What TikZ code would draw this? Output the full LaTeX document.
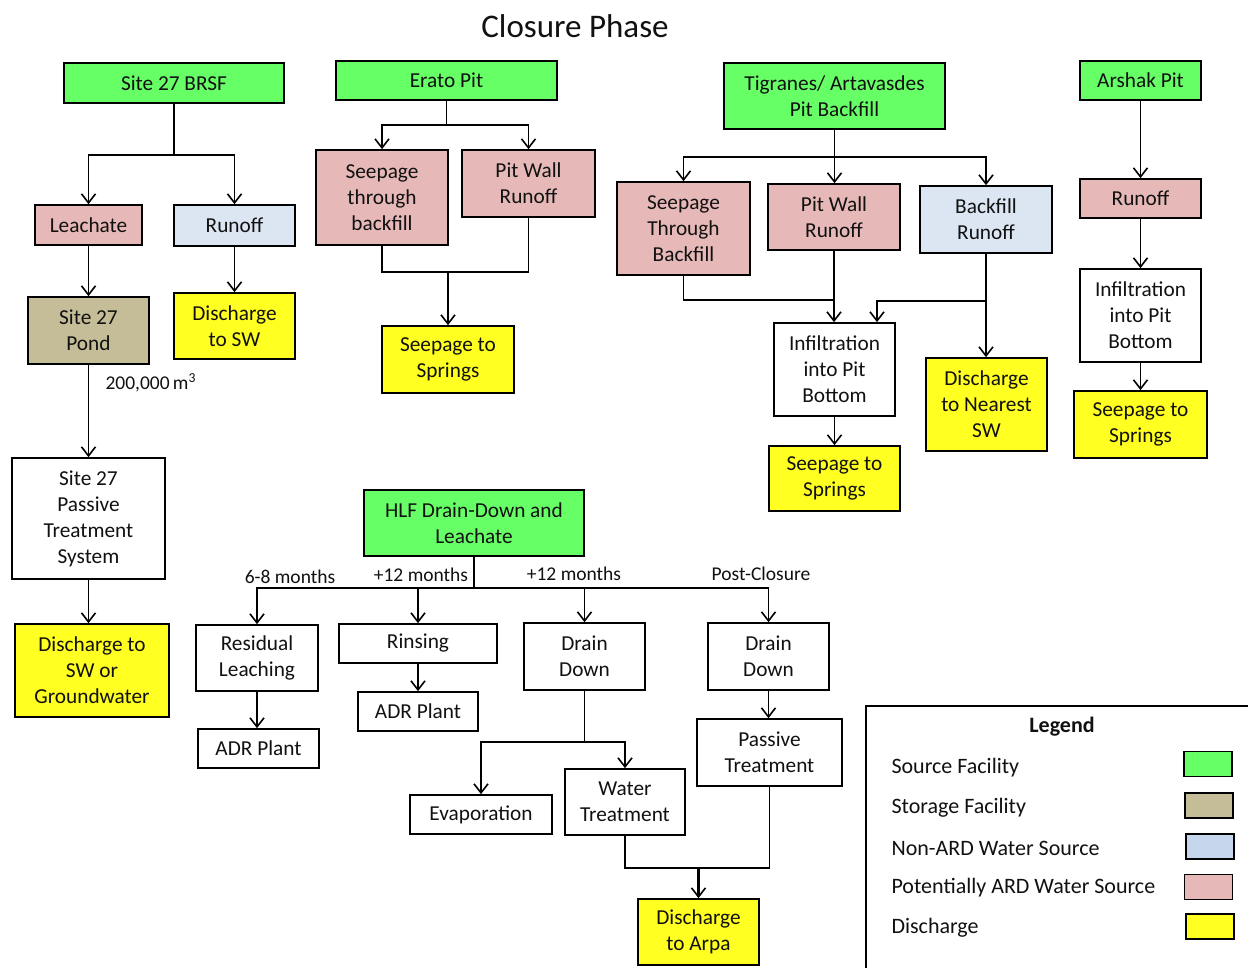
\documentclass[tikz,border=0pt]{standalone}
\usepackage{fontspec}
\setmainfont{Carlito}
\usetikzlibrary{arrows.meta,calc}
\definecolor{cgreen}{HTML}{66FF66}
\definecolor{ctan}{HTML}{C4BD97}
\definecolor{cblue}{HTML}{DCE6F2}
\definecolor{cblueL}{HTML}{C6D6EC}
\definecolor{cpink}{HTML}{E6B9B8}
\definecolor{cyel}{HTML}{FFFF22}
\definecolor{ctxt}{HTML}{111111}
\begin{document}
\begin{tikzpicture}[x=1pt,y=-1pt,
  box/.style={draw, line width=1.7pt, align=center, inner sep=0pt, text=ctxt, font=\fontsize{21.3}{26}\selectfont},
  arr/.style={line width=1.7pt, -{Straight Barb[length=9pt,width=14pt,line width=1.6pt]}},
  ln/.style={line width=1.7pt},
  lbl/.style={text=ctxt, font=\fontsize{19.5}{22}\selectfont},
  leg/.style={text=ctxt, anchor=west, font=\fontsize{22}{26}\selectfont},
  sw/.style={draw, line width=1.7pt, minimum width=48pt, minimum height=25pt, inner sep=0pt}]
\useasboundingbox (0,0) rectangle (1248,968);
\fill[white] (0,0) rectangle (1248,968);

\node[text=ctxt, font=\fontsize{33}{38}\selectfont] (title) at (575,26) {Closure Phase};

% Site 27
\node[box,fill=cgreen,minimum width=220pt,minimum height=40pt] (brsf) at (174,83) {Site 27 BRSF};
\node[box,fill=cpink,minimum width=107pt,minimum height=40pt] (leach) at (88.5,225) {Leachate};
\node[box,fill=cblue,minimum width=121pt,minimum height=41pt] (run1) at (234.5,225.5) {Runoff};
\node[box,fill=ctan,minimum width=121pt,minimum height=67pt] (pond) at (88.5,330.5) {Site 27\\Pond};
\node[box,fill=cyel,minimum width=121pt,minimum height=66pt] (dsw) at (234.5,326) {Discharge\\to SW};
\node[lbl,anchor=west] (vol) at (102,383) {200,000\,m\textsuperscript{3}};
\node[box,fill=white,minimum width=153pt,minimum height=121pt] (pts) at (88.5,518.5) {Site 27\\Passive\\Treatment\\System};
\node[box,fill=cyel,minimum width=154pt,minimum height=93pt] (dgw) at (92,670.5) {Discharge to\\SW or\\Groundwater};

% Erato
\node[box,fill=cgreen,minimum width=221pt,minimum height=39pt] (erato) at (446.5,80.5) {Erato Pit};
\node[box,fill=cpink,minimum width=132pt,minimum height=95pt] (esb) at (382,197.5) {Seepage\\through\\backfill};
\node[box,fill=cpink,minimum width=133pt,minimum height=67pt] (epw) at (528.5,183.5) {Pit Wall\\Runoff};
\node[box,fill=cyel,minimum width=132pt,minimum height=67pt] (ess) at (448,359.5) {Seepage to\\Springs};

% Tigranes
\node[box,fill=cgreen,minimum width=221pt,minimum height=66pt] (tig) at (834.5,96) {Tigranes/ Artavasdes\\Pit Backfill};
\node[box,fill=cpink,minimum width=133pt,minimum height=93pt] (tsb) at (683.5,228.5) {Seepage\\Through\\Backfill};
\node[box,fill=cpink,minimum width=132pt,minimum height=66pt] (tpw) at (834,217) {Pit Wall\\Runoff};
\node[box,fill=cblue,minimum width=132pt,minimum height=67pt] (tbr) at (986,219.5) {Backfill\\Runoff};
\node[box,fill=white,minimum width=121pt,minimum height=93pt] (tinf) at (834.5,369.5) {Infiltration\\into Pit\\Bottom};
\node[box,fill=cyel,minimum width=121pt,minimum height=93pt] (tdsw) at (986.5,404.5) {Discharge\\to Nearest\\SW};
\node[box,fill=cyel,minimum width=131pt,minimum height=65pt] (tss) at (834.5,478.5) {Seepage to\\Springs};

% Arshak
\node[box,fill=cgreen,minimum width=121pt,minimum height=39pt] (ars) at (1140.5,80.5) {Arshak Pit};
\node[box,fill=cpink,minimum width=121pt,minimum height=39pt] (arun) at (1140.5,198.5) {Runoff};
\node[box,fill=white,minimum width=121pt,minimum height=93pt] (ainf) at (1140.5,315.5) {Infiltration\\into Pit\\Bottom};
\node[box,fill=cyel,minimum width=133pt,minimum height=67pt] (ass) at (1140.5,424.5) {Seepage to\\Springs};

% HLF
\node[box,fill=cgreen,minimum width=220pt,minimum height=66pt] (hlf) at (474,523) {HLF Drain-Down and\\Leachate};
\node[box,fill=white,minimum width=122pt,minimum height=66pt] (res) at (257,658) {Residual\\Leaching};
\node[box,fill=white,minimum width=158pt,minimum height=39pt] (rin) at (418,643.5) {Rinsing};
\node[box,fill=white,minimum width=121pt,minimum height=67pt] (dd1) at (584.5,656.5) {Drain\\Down};
\node[box,fill=white,minimum width=121pt,minimum height=67pt] (dd2) at (768.5,656.5) {Drain\\Down};
\node[box,fill=white,minimum width=121pt,minimum height=39pt] (adr1) at (258.5,748.5) {ADR Plant};
\node[box,fill=white,minimum width=120pt,minimum height=39pt] (adr2) at (418,711.5) {ADR Plant};
\node[box,fill=white,minimum width=145pt,minimum height=67pt] (pt) at (769.5,752.5) {Passive\\Treatment};
\node[box,fill=white,minimum width=142pt,minimum height=39pt] (evap) at (481,814.5) {Evaporation};
\node[box,fill=white,minimum width=120pt,minimum height=66pt] (wt) at (625,802) {Water\\Treatment};
\node[box,fill=cyel,minimum width=121pt,minimum height=66pt] (arpa) at (698.5,932) {Discharge\\to Arpa};

\node[lbl] (l1) at (290,577) {6-8 months};
\node[lbl] (l2) at (421,575) {+12 months};
\node[lbl] (l3) at (574,574) {+12 months};
\node[lbl] (l4) at (761,574) {Post-Closure};

% Legend
\draw[line width=1.7pt] (866,968) -- (866,706) -- (1248,706);
\node[text=ctxt, font=\fontsize{22}{26}\selectfont\bfseries] (legt) at (1062,727) {Legend};
\node[leg] (lg1) at (888,768) {Source Facility};
\node[leg] (lg2) at (888,808) {Storage Facility};
\node[leg] (lg3) at (888,848) {Non-ARD Water Source};
\node[leg] (lg4) at (888,888) {Potentially ARD Water Source};
\node[leg] (lg5) at (888,928) {Discharge};
\node[sw,fill=cgreen] (s1) at (1208,764) {};
\node[sw,fill=ctan] (s2) at (1209,805.5) {};
\node[sw,fill=cblueL] (s3) at (1210,846.5) {};
\node[sw,fill=cpink] (s4) at (1208.5,887) {};
\node[sw,fill=cyel] (s5) at (1210,926.5) {};

% Site 27 connectors
\coordinate (b1) at (174,155);
\draw[ln] (brsf.south) -- (b1);
\draw[arr] (b1) -| (leach.north);
\draw[arr] (b1) -| (run1.north);
\draw[arr] (leach.south) -- (pond.north);
\draw[arr] (run1.south) -- (dsw.north);
\draw[arr] (pond.south) -- (pts.north);
\draw[arr] (pts.south) -- (pts.south |- dgw.north);

% Erato connectors
\coordinate (e1) at (446.5,125);
\draw[ln] (erato.south) -- (e1);
\draw[arr] (e1) -| (esb.north);
\draw[arr] (e1) -| (epw.north);
\coordinate (e2) at (448,272);
\draw[ln] (esb.south) |- (epw.south |- e2) -- (epw.south);
\draw[arr] (e2) -- (ess.north);

% Tigranes connectors
\coordinate (t1) at (834.5,157);
\draw[ln] (tig.south) -- (t1);
\draw[arr] (t1) -| (tsb.north);
\draw[arr] (t1) -- (t1 |- tpw.north);
\draw[arr] (t1) -| (tbr.north);
\coordinate (t2) at (834,300);
\draw[ln] (tsb.south) |- (t2);
\draw[arr] (tpw.south) -- (tpw.south |- tinf.north);
\coordinate (t3) at (986,301);
\coordinate (t4) at (877,301);
\draw[arr] (tbr.south) -- (tbr.south |- tdsw.north);
\draw[arr] (t3) -- (t4) -- (t4 |- tinf.north);
\draw[arr] (tinf.south) -- (tinf.south |- tss.north);

% Arshak connectors
\draw[arr] (ars.south) -- (arun.north);
\draw[arr] (arun.south) -- (ainf.north);
\draw[arr] (ainf.south) -- (ass.north);

% HLF connectors
\coordinate (h1) at (474,588);
\draw[ln] (hlf.south) -- (h1);
\draw[arr] (h1) -| (res.north);
\draw[arr] (h1) -| (rin.north);
\draw[arr] (h1) -| (dd1.north);
\draw[arr] (h1) -| (dd2.north);
\draw[arr] (res.south) -- (res.south |- adr1.north);
\draw[arr] (rin.south) -- (adr2.north);
\coordinate (d1) at (584.5,742);
\draw[ln] (dd1.south) -- (d1);
\draw[arr] (d1) -| (evap.north);
\draw[arr] (d1) -| (wt.north);
\draw[arr] (dd2.south) -- (dd2.south |- pt.north);
\coordinate (w1) at (698.5,868);
\draw[ln] (wt.south) |- (w1) -| (pt.south);
\draw[arr,line width=2.4pt] (w1) -- (arpa.north);
\end{tikzpicture}
\end{document}
